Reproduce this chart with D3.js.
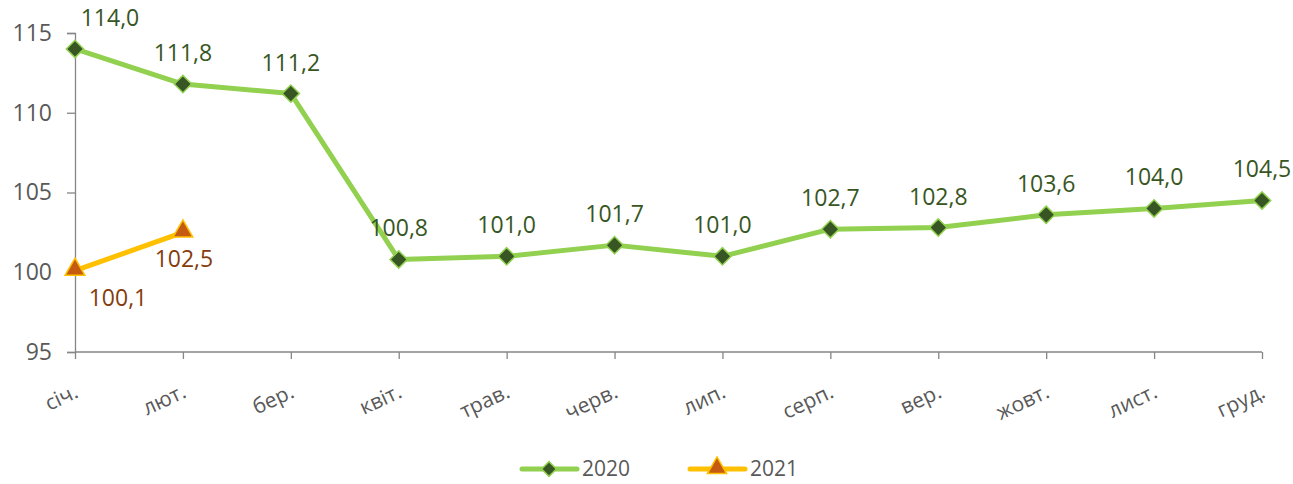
<!DOCTYPE html>
<html>
<head>
<meta charset="utf-8">
<script src="https://d3js.org/d3.v7.min.js"></script>
<style>
  body { margin: 0; background: #fff; font-family: "Open Sans", "Noto Sans", sans-serif; }
  .axis path, .axis line { stroke: #868686; stroke-width: 1.3px; }
  .axis text { fill: #595959; font-family: "Open Sans", sans-serif; }
</style>
</head>
<body>
<script>
// data
var months = ["січ.", "лют.", "бер.", "квіт.", "трав.", "черв.", "лип.", "серп.", "вер.", "жовт.", "лист.", "груд."];
var values2020 = [114.0, 111.8, 111.2, 100.8, 101.0, 101.7, 101.0, 102.7, 102.8, 103.6, 104.0, 104.5];
var values2021 = [100.1, 102.5];
var yTicks = [95, 100, 105, 110, 115];

var W = 1293, H = 484;
var svg = d3.select("body").append("svg").attr("width", W).attr("height", H);

var x = d3.scalePoint().domain(months).range([75, 1262]);
var y = d3.scaleLinear().domain([95, 115]).range([352, 33]);

// y axis
var yAxis = svg.append("g").attr("class", "axis")
    .attr("transform", "translate(75,0)")
    .call(d3.axisLeft(y).tickValues(yTicks).tickSize(8).tickPadding(15));
yAxis.selectAll("text").style("font-size", "23px");

// x axis
var xAxis = svg.append("g").attr("class", "axis")
    .attr("transform", "translate(0,352)")
    .call(d3.axisBottom(x).tickSize(7).tickFormat(""));
xAxis.select(".domain").attr("d", "M75,0H1262");
xAxis.selectAll(".tick").append("text")
    .attr("transform", "translate(1,38) rotate(-25)")
    .attr("text-anchor", "end")
    .attr("dy", "0.35em")
    .style("font-size", "21px")
    .style("fill", "#595959")
    .text(function(d) { return d; });

var line = d3.line()
    .x(function(d, i) { return x(months[i]); })
    .y(function(d) { return y(d); });

// 2020
svg.append("path").datum(values2020)
    .attr("d", line)
    .attr("fill", "none")
    .attr("stroke", "#92D050")
    .attr("stroke-width", 5)
    .attr("stroke-linejoin", "round");

svg.selectAll(".m2020").data(values2020).enter().append("path")
    .attr("class", "m2020")
    .attr("d", d3.symbol().type(d3.symbolSquare).size(150))
    .attr("transform", function(d, i) { return "translate(" + x(months[i]) + "," + y(d) + ") rotate(45)"; })
    .attr("fill", "#375623")
    .attr("stroke", "#92D050")
    .attr("stroke-width", 1.5);

var dx2020 = [35, 0, 0, 0, 0, 0, 0, 0, 0, 0, 0, 0];
svg.selectAll(".l2020").data(values2020).enter().append("text")
    .attr("class", "l2020")
    .attr("x", function(d, i) { return x(months[i]) + dx2020[i]; })
    .attr("y", function(d) { return y(d) - 23; })
    .attr("text-anchor", "middle")
    .style("font-size", "23px")
    .style("fill", "#375623")
    .text(function(d) { return d.toFixed(1).replace(".", ","); });

// 2021
svg.append("path").datum(values2021)
    .attr("d", line)
    .attr("fill", "none")
    .attr("stroke", "#FFC000")
    .attr("stroke-width", 5)
    .attr("stroke-linejoin", "round");

svg.selectAll(".m2021").data(values2021).enter().append("path")
    .attr("class", "m2021")
    .attr("d", d3.symbol().type(d3.symbolTriangle).size(170))
    .attr("transform", function(d, i) { return "translate(" + x(months[i]) + "," + (y(d) - 1) + ")"; })
    .attr("fill", "#C55A11")
    .attr("stroke", "#FFC000")
    .attr("stroke-width", 1.5);

var dx2021 = [43, 1];
svg.selectAll(".l2021").data(values2021).enter().append("text")
    .attr("class", "l2021")
    .attr("x", function(d, i) { return x(months[i]) + dx2021[i]; })
    .attr("y", function(d) { return y(d) + 35; })
    .attr("text-anchor", "middle")
    .style("font-size", "23px")
    .style("fill", "#843C0C")
    .text(function(d) { return d.toFixed(1).replace(".", ","); });

// legend
var legend = [
  { name: "2020", x0: 522, color: "#92D050", fill: "#375623", sym: "diamond" },
  { name: "2021", x0: 690, color: "#FFC000", fill: "#C55A11", sym: "triangle" }
];
var lg = svg.selectAll(".legend").data(legend).enter().append("g")
    .attr("class", "legend")
    .attr("transform", function(d) { return "translate(" + d.x0 + ",469)"; });
lg.append("line").attr("x1", 0).attr("x2", 55)
    .attr("stroke", function(d) { return d.color; }).attr("stroke-width", 5).attr("stroke-linecap", "round");
lg.append("path")
    .attr("d", function(d) {
      return d.sym === "diamond" ? d3.symbol().type(d3.symbolSquare).size(110)() : d3.symbol().type(d3.symbolTriangle).size(160)();
    })
    .attr("transform", function(d) { return d.sym === "diamond" ? "translate(27,0) rotate(45)" : "translate(27,-1)"; })
    .attr("fill", function(d) { return d.fill; })
    .attr("stroke", function(d) { return d.color; })
    .attr("stroke-width", 1.5);
lg.append("text").attr("x", 60).attr("dy", "0.35em")
    .style("font-size", "21px").style("fill", "#595959")
    .text(function(d) { return d.name; });
</script>
</body>
</html>
